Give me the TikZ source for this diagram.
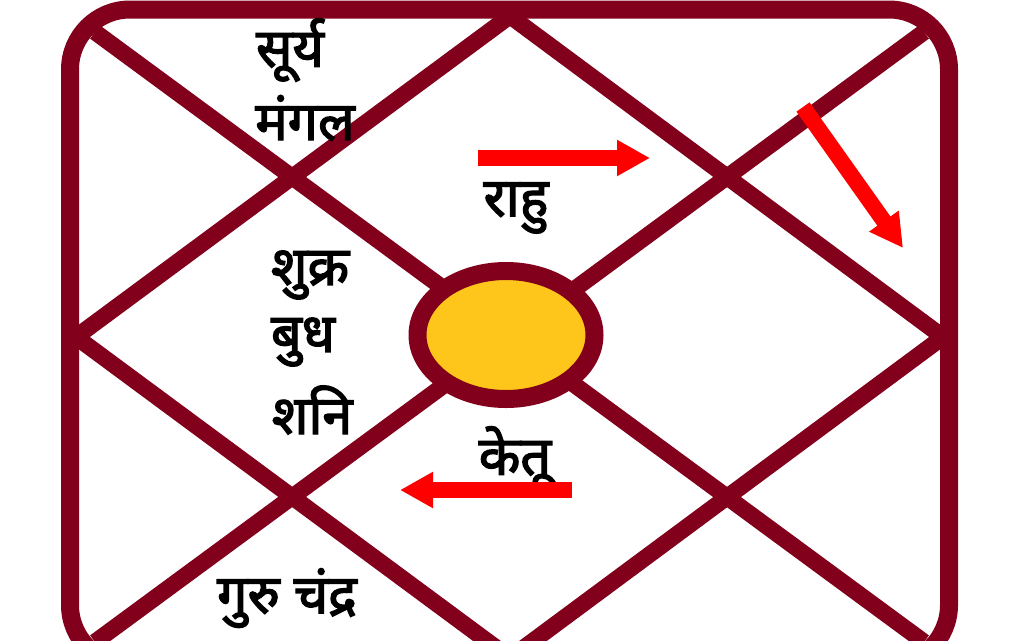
\documentclass[tikz,border=0pt]{standalone}
\usepackage{fontspec}
\newfontfamily\dev[Script=Devanagari,FakeBold=2.5]{Noto Sans}
\usetikzlibrary{arrows.meta,shapes.geometric}
\definecolor{maroon}{RGB}{130,0,28}
\definecolor{gold}{RGB}{254,198,26}
\definecolor{arrred}{RGB}{255,0,0}
\tikzset{
  frame/.style={draw=maroon, line width=18, rounded corners=60},
  chartline/.style={draw=maroon, line width=16.5},
  sun/.style={ellipse, draw=maroon, fill=gold, line width=18, minimum width=177, minimum height=128, inner sep=0},
  planet/.style={font=\dev\fontsize{54}{60}\selectfont, text=black, inner sep=0},
  motion/.style={draw=arrred, line width=16, -{Triangle[length=33pt,width=34pt]}}
}
\begin{document}
\begin{tikzpicture}[x=1pt,y=-1pt]
\useasboundingbox (0,0) rectangle (1024,640);
\clip (0,0) rectangle (1024,640);
\fill[white] (0,0) rectangle (1024,640);
\coordinate (tl) at (95,32);
\coordinate (tr) at (924,32);
\coordinate (bl) at (95,642);
\coordinate (br) at (924,642);
\coordinate (mt) at (510,16);
\coordinate (mr) at (943,337);
\coordinate (mb) at (510,658);
\coordinate (ml) at (76,337);
\draw[frame] (70,9.5) rectangle (949,665);
\draw[chartline] (tl) -- (br);
\draw[chartline] (tr) -- (bl);
\draw[chartline] (mt) -- (mr) -- (mb) -- (ml) -- cycle;
\node[sun] (center) at (506,335) {};
\node[planet] (surya) at (290,50) {सूर्य};
\node[planet] (mangal) at (305,118) {मंगल};
\node[planet] (rahu) at (516,208) {राहु};
\node[planet] (shukra) at (310,275) {शुक्र};
\node[planet] (budh) at (303,342) {बुध};
\node[planet] (shani) at (312,410) {शनि};
\node[planet] (ketu) at (515,458) {केतू};
\node[planet] (guru) at (287,598) {गुरु चंद्र};
\coordinate (a1s) at (478,158);
\coordinate (a1e) at (650,158);
\coordinate (a2s) at (803,107);
\coordinate (a2e) at (903,248);
\coordinate (a3s) at (572,490);
\coordinate (a3e) at (400,490);
\draw[motion] (a1s) -- (a1e);
\draw[motion] (a2s) -- (a2e);
\draw[motion] (a3s) -- (a3e);
\end{tikzpicture}
\end{document}
